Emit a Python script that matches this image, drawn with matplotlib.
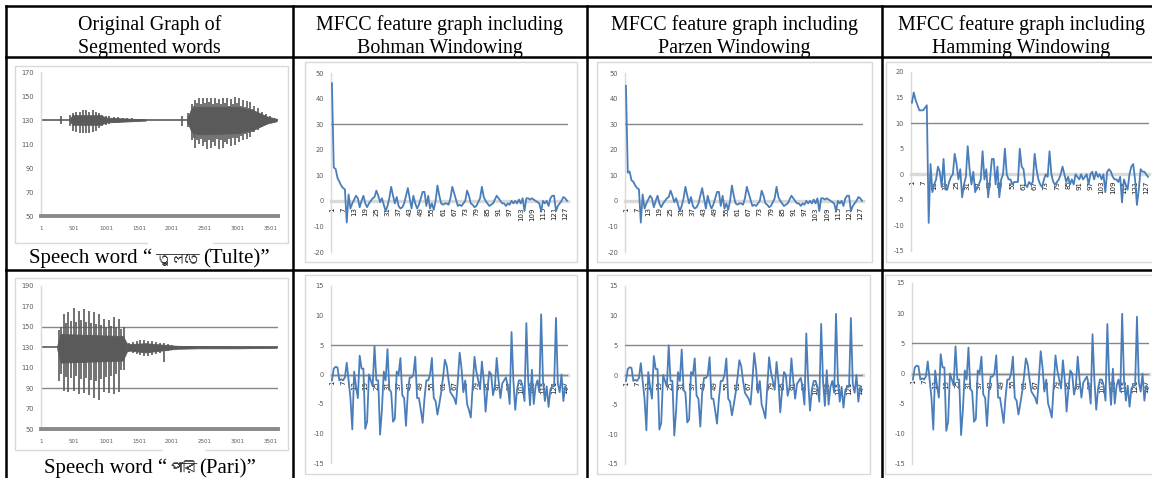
import numpy as np
import matplotlib
matplotlib.use("Agg")
import matplotlib.pyplot as plt
from matplotlib.lines import Line2D
from matplotlib.patches import Rectangle
from matplotlib import font_manager
from matplotlib.ft2font import FT2Font

plt.rcParams['axes.unicode_minus'] = False

# ---------------- data ----------------
headers = [["Original Graph of", "Segmented words"],
           ["MFCC feature graph including", "Bohman Windowing"],
           ["MFCC feature graph including", "Parzen Windowing"],
           ["MFCC feature graph including", "Hamming Windowing"]]
captions = [("Speech word \u201c", "\u09a4\u09c1\u09b2\u09a4\u09c7", "(Tulte)\u201d"),
            ("Speech word \u201c", "\u09aa\u09be\u09b0\u09bf", "(Pari)\u201d")]

wave_xticks = [1, 501, 1001, 1501, 2001, 2501, 3001, 3501]
wave_end = 3620

# Tulte waveform: spikes (position, top, bottom) and dense core band
tulte_yticks = [50, 70, 90, 110, 130, 150, 170]
tulte_spike_x = [307, 440, 490, 540, 590, 640, 690, 740, 790, 840, 890, 940, 990,
                 1040, 1110, 1180, 1250, 1320, 1390, 1460, 1530, 2150,
                 2240, 2300, 2360, 2420, 2480, 2540, 2600, 2660, 2720, 2780, 2840, 2900,
                 2960, 3020, 3080, 3140, 3200, 3260, 3320, 3380, 3440, 3500, 3560,
                 2330, 2390, 2450, 2510, 2570, 2630, 2690, 2750, 2810, 2870, 2930,
                 2990, 3050, 3110, 3170, 3230]
tulte_spike_hi = [133, 134, 136, 137, 137, 138, 138, 137, 138, 137, 136, 134, 133,
                  133, 132.5, 132.5, 132, 132, 131.5, 131, 131, 133,
                  136, 143, 147, 148, 148, 148.5, 148, 148, 147.5, 148, 148, 147.5,
                  149, 148, 147, 146, 145, 142, 140, 137, 135, 133, 132,
                  142, 144, 143, 144, 145, 143, 144, 143, 144, 142, 143,
                  144, 142, 141, 140, 139]
tulte_spike_lo = [127, 125, 121, 120, 119, 119, 119, 119, 120, 121, 123, 125, 126,
                  127, 127.5, 127.5, 128, 128, 128.5, 129, 129, 125,
                  124, 113, 107, 110, 108, 106, 107, 108, 106, 107, 110, 108,
                  109, 112, 113, 114, 116, 120, 122, 124, 126, 128, 129,
                  115, 113, 114, 112, 113, 112, 114, 113, 112, 114, 115,
                  115, 117, 118, 119, 120]
tulte_band_x = [[430, 480, 900, 1000, 1600], [2230, 2300, 2400, 3000, 3250, 3450, 3600]]
tulte_band_hi = [[130, 134, 134, 132, 130.5], [131, 140, 141, 141, 138, 133, 131]]
tulte_band_lo = [[130, 126, 126, 128, 129.5], [129, 120, 118, 119, 122, 127, 129]]

# Pari waveform
pari_yticks = [50, 70, 90, 110, 130, 150, 170, 190]
pari_grid = [150, 90]
pari_spike_x = [270, 345, 420, 500, 575, 650, 730, 805, 880, 960, 1035, 1110, 1190, 1265,
                1340, 1400, 1460, 1520, 1580, 1640, 1700, 1760, 1820, 1880, 1940, 2000, 2060,
                308, 383, 460, 538, 612, 690, 768, 843, 920, 998, 1072, 1150, 1228]
pari_spike_hi = [147, 163, 165, 168, 166, 167, 166, 165, 163, 158, 157, 160, 158, 150,
                 134, 135, 136, 137, 137, 136.5, 136, 135, 134.5, 134, 133, 132.5, 131.5,
                 150, 154, 156, 155, 157, 155, 154, 153, 152, 150, 151, 150, 148]
pari_spike_lo = [97, 87, 86, 87, 84, 85, 83, 80, 78, 86, 85, 84, 86, 108,
                 125, 124, 123, 122, 121, 121, 122, 123, 124, 116, 126, 127, 128.5,
                 104, 101, 100, 102, 99, 100, 98, 97, 99, 101, 102, 104, 108]
pari_band_x = [[250, 300, 1250, 1320], [1320, 1600, 2060], [2060, 2400, 3000, 3600]]
pari_band_hi = [[132, 143, 141, 133], [133, 134, 131.5], [131.5, 131, 130.8, 130.5]]
pari_band_lo = [[128, 115, 117, 127], [127, 125, 128.5], [128.5, 129, 129, 129.5]]

# MFCC series (frame index 1..128)
cat_ticks = list(range(1, 129, 6))

bohman_tulte = [46, 13, 12.5, 9, 7.5, 6, 5, 4.5, -8.5, 2.5,
                -3, -1, 0.5, 2, 1, -2.5, 0, 2, -1, -2.5,
                -1, 0, 1, 1.5, 4, 2, -0.5, 1, -1.5, -4,
                -2, 1, 5.5, 2, -1, 1.5, -2, -3, -2.5, -1,
                2, 5, 1, -3, 2, -1, -3, -1.5, 1, 3.5,
                3.5, -2, 2, -3, -1, -3.5, 0, 6, 2, -1,
                -1.5, -1, -1, -1.5, 1, 5.5, 3, 0.5, -2, -1.5,
                -2, -1, 0, 4, 2, -1, -1.5, -2.5, -2, -0.5,
                1, 5.5, 1.5, 0, -1, -2, -1.5, -1, 0.5, 2,
                1, 0, -1, -1, -2, -1, -1.5, 0, -1, 0,
                -1, 0.5, -1, 1, -4, 1, 1, 0.5, 1, 0.5,
                0, -0.5, -1, -4, 0, -1, 0, -2, 1, 2,
                2, -4, -2, -1, 0, 1.5, 1, 0]
parzen_tulte = list(bohman_tulte)
parzen_tulte[0:4] = [45, 11, 11.5, 8]

hamming_tulte = [14, 16, 14.5, 13.5, 12.5, 12.5, 12.5, 13, 13.5, -9.5,
                 2, -3.5, -2, -1, 1.5, 0.5, -2.5, 3, -3, -3,
                 -1.5, -0.5, 0, 4, 2, -1, 1, -4.5, -2, -0.5,
                 5.5, 1, -2, 0.5, -3.5, -2.5, -2, -1, 4.5, -1,
                 1, -4.5, -1, 3, 3, -2, 1.5, -4.5, -1, 0,
                 5, 0, -1, -1, -2, -1.5, -1.5, -1.5, 5, 1.5,
                 1, -2, -2.5, -1.5, -2, -1.5, 4, 1, -1, -2,
                 -2.5, -1, 0, -0.5, 4.5, 0, -1.5, -2, -1.5, -1,
                 0, 1.5, 0, -1.5, -0.5, -2, -1, -2, 0, -0.5,
                 -1, 0, -1, -0.5, 0, -2, 0, 0.5, -1, 0.5,
                 -0.5, 0, -1, 0, -3.5, 0.5, 1, 0.5, -0.5, -1,
                 -1, -1.5, -0.5, -5.5, -1, -2, -3, 0, 1.5, 2,
                 -1, -6, -3, 1, 0.5, 0.5, 0, -0.5]

bohman_pari = [-1, 1, 1.3, 1.2, -1, -0.8, -1, -0.5, 2, -1,
               -4, -9.3, 0.5, -2, -4, 3.2, 1, 1, -9.2, -8,
               0, -1, -2, 4.8, -1, -1, -10.2, -6, 0.5, -1,
               4.3, -2.5, -3, -8, -7.5, 0.5, 0, 2.8, -3.5, -4,
               -8.7, -3, -0.5, -0.5, 0, 3, -4, -4, -6, -8.2,
               -4, -1, -1, 0, 2.8, -4, -4.5, -6.8, -5, -3,
               -0.5, 2.5, 1.5, -1, -3, -3.5, -4, -5, -1, 3.7,
               1, -3, -1, -5, -6, -7.3, -2, 3, 0.5, -1,
               -2.5, 2.2, -1, -6.3, -2.5, 0.5, 0, -3.5, -2, 2.8,
               -1, -4, -1.5, -1, -0.5, -2, -5, 7.2, -1, -6,
               -2.5, -1, -1, -2, -4.5, 8.7, -1, -5.2, 0.8, -5,
               -2, -1, -3, 10.2, -1, -4.5, -2, -5.5, -2.5, -2,
               -2, 9.6, -1.5, -3, 0, -4.5, -2, -2.5]
parzen_pari = list(bohman_pari)
parzen_pari[23] = 5.0
parzen_pari[97] = 7.0
parzen_pari[105] = 8.6
parzen_pari[113] = 10.3
hamming_pari = list(bohman_pari)
hamming_pari[23] = 4.5
hamming_pari[18] = -9.5
hamming_pari[97] = 6.5
hamming_pari[105] = 8.2
hamming_pari[113] = 9.9
hamming_pari[121] = 9.4

# ---------------- style ----------------
BLUE = '#4a7ebb'
WAVE = '#5a5a5a'
GRID = '#868686'
LIGHT = '#d9d9d9'
TICKC = '#595959'
SERIF = 'Liberation Serif'

W, H = 1152, 478
fig = plt.figure(figsize=(W / 100, H / 100), dpi=100)
fig.patch.set_facecolor('white')


def fx(x):
    return x / W


def fy(y):
    return 1 - y / H


def add_ax(x0, y0, x1, y1):
    return fig.add_axes([fx(x0), fy(y1), (x1 - x0) / W, (y1 - y0) / H])


def frame(x0, y0, x1, y1):
    fig.add_artist(Rectangle((fx(x0), fy(y1)), (x1 - x0) / W, (y1 - y0) / H,
                             transform=fig.transFigure, fill=False,
                             ec=LIGHT, lw=1.0, zorder=0))


def white_box(x0, y0, x1, y1):
    fig.add_artist(Rectangle((fx(x0), fy(y1)), (x1 - x0) / W, (y1 - y0) / H,
                             transform=fig.transFigure, fc='white',
                             ec='none', zorder=4))


def hline(y, x0, x1):
    fig.add_artist(Line2D([fx(x0), fx(x1)], [fy(y), fy(y)], color='black', lw=1.8, zorder=5))


def vline(x, y0, y1):
    fig.add_artist(Line2D([fx(x), fx(x)], [fy(y0), fy(y1)], color='black', lw=1.8, zorder=5))


def find_font(ch):
    for f in font_manager.fontManager.ttflist:
        try:
            ft = FT2Font(f.fname)
            if ord(ch) in ft.get_charmap():
                return f.name
        except Exception:
            pass
    return None


bn_font = find_font('\u09a4')
BN_FAMILY = [bn_font, 'DejaVu Sans'] if bn_font else ['DejaVu Sans']


def common(ax):
    ax.patch.set_alpha(0)
    for s in ['top', 'right']:
        ax.spines[s].set_visible(False)
    ax.spines['left'].set_color(LIGHT)
    ax.spines['left'].set_linewidth(1.0)
    ax.tick_params(length=0, labelsize=4.8, colors=TICKC, pad=5)


def wave(ax, yticks, ylim, grids, sx, shi, slo, bx, bhi, blo):
    common(ax)
    for g in grids:
        ax.axhline(g, color=GRID, lw=1.0, zorder=1)
    ax.plot([1, wave_end], [130, 130], color=WAVE, lw=1.2, zorder=2)
    for xx, hh, ll in zip(bx, bhi, blo):
        ax.fill_between(xx, ll, hh, color=WAVE, lw=0.6, zorder=2)
    ax.vlines(sx, slo, shi, color=WAVE, lw=1.2, zorder=2)
    ax.set_xlim(1, wave_end)
    ax.set_ylim(*ylim)
    ax.set_yticks(yticks)
    ax.set_xticks(wave_xticks)
    ax.spines['bottom'].set_color('#8a8a8a')
    ax.spines['bottom'].set_linewidth(2.8)
    ax.tick_params(axis='x', pad=7, labelsize=4.0)


def mfcc(ax, y, ylim, yticks, grids):
    common(ax)
    x = np.arange(1, len(y) + 1)
    for g in grids:
        ax.axhline(g, color=GRID, lw=1.0, zorder=2.7)
    ax.plot(x, y, color=BLUE, lw=1.3, zorder=3)
    ax.set_xlim(0.5, len(y) + 0.5)
    ax.set_ylim(*ylim)
    ax.set_yticks(yticks)
    ax.spines['bottom'].set_position(('data', 0))
    ax.spines['bottom'].set_color(LIGHT)
    ax.spines['bottom'].set_linewidth(2.4)
    ax.set_xticks(cat_ticks)
    ax.set_xticklabels([str(c) for c in cat_ticks], rotation=90, fontsize=5.0,
                       color='#1a1a1a')
    ax.tick_params(axis='x', pad=4.5)


# ---------------- panel frames ----------------
frame(15, 66, 288, 243)
frame(305, 62, 577, 262)
frame(597, 62, 872, 262)
frame(886, 62, 1170, 262)
frame(15, 278, 288, 450)
frame(305, 275, 577, 474)
frame(597, 275, 870, 474)
frame(885, 275, 1170, 474)
# white background of the embedded Bengali word images
white_box(148, 240, 213, 250)
white_box(163, 447, 205, 455)

# ---------------- row 1 ----------------
a = add_ax(41, 72, 278, 216)
wave(a, tulte_yticks, (50, 170), [], tulte_spike_x, tulte_spike_hi, tulte_spike_lo,
     tulte_band_x, tulte_band_hi, tulte_band_lo)

a = add_ax(331, 73, 568, 252)
mfcc(a, bohman_tulte, (-20, 50), list(range(-20, 51, 10)), [30])
a = add_ax(625, 73, 863, 252)
mfcc(a, parzen_tulte, (-20, 50), list(range(-20, 51, 10)), [30])
a = add_ax(911, 72, 1149, 251)
mfcc(a, hamming_tulte, (-15, 20), list(range(-15, 21, 5)), [10])

# ---------------- row 2 ----------------
a = add_ax(41, 286, 278, 429)
wave(a, pari_yticks, (50, 190), pari_grid, pari_spike_x, pari_spike_hi, pari_spike_lo,
     pari_band_x, pari_band_hi, pari_band_lo)

a = add_ax(331, 286, 568, 463)
mfcc(a, bohman_pari, (-15, 15), list(range(-15, 16, 5)), [5, 0])
a = add_ax(625, 286, 863, 464)
mfcc(a, parzen_pari, (-15, 15), list(range(-15, 16, 5)), [5, 0])
a = add_ax(912, 283, 1149, 464)
mfcc(a, hamming_pari, (-15, 15), list(range(-15, 16, 5)), [5, 0])

# ---------------- table grid ----------------
hline(6, 6, 1152)
hline(57, 6, 1152)
hline(270, 6, 1152)
for xv in [6, 293, 587, 882]:
    vline(xv, 6, 478)

# ---------------- header text ----------------
col_centers = [149.5, 440, 734.5, 1021]
for cx, (l1, l2) in zip(col_centers, headers):
    fig.text(fx(cx), fy(30), l1, ha='center', va='baseline', family=SERIF, fontsize=14.4)
    fig.text(fx(cx), fy(53), l2, ha='center', va='baseline', family=SERIF, fontsize=14.4)

# ---------------- captions ----------------
cap_pos = [(152, 178, 203, 263), (167, 183, 199, 473)]
for (left, bn, right), (xl, xb, xr, yb) in zip(captions, cap_pos):
    fig.text(fx(xl), fy(yb), left, ha='right', va='baseline', family=SERIF, fontsize=15, zorder=6)
    fig.text(fx(xb), fy(yb), bn, ha='center', va='baseline', family=BN_FAMILY, fontsize=10.5,
             color='#333333', zorder=6,
             bbox=dict(facecolor='white', edgecolor='none', pad=1.5))
    fig.text(fx(xr), fy(yb), right, ha='left', va='baseline', family=SERIF, fontsize=15, zorder=6)

fig.savefig('out.png', dpi=100, facecolor='white')
